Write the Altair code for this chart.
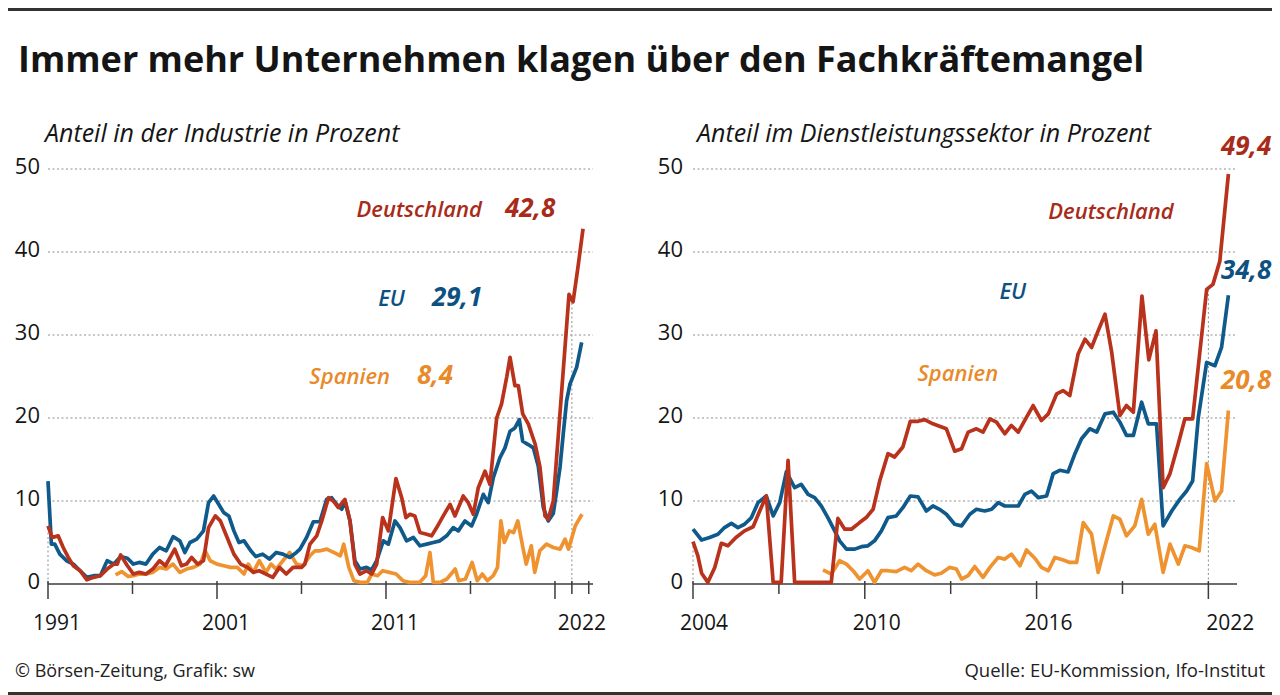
import altair as alt
import pandas as pd

TITLE = "Immer mehr Unternehmen klagen über den Fachkräftemangel"
SUB_LEFT = "Anteil in der Industrie in Prozent"
SUB_RIGHT = "Anteil im Dienstleistungssektor in Prozent"
SOURCE_LEFT = "© Börsen-Zeitung, Grafik: sw"
SOURCE_RIGHT = "Quelle: EU-Kommission, Ifo-Institut"

# ---------------- Industrie (left panel) ----------------
ind_de_years = [1991.0, 1991.25, 1991.6, 1991.9, 1992.2, 1992.5, 1992.9, 1993.3, 1993.7, 1994.1,
                1994.5, 1994.9, 1995.1, 1995.3, 1995.7, 1996.05, 1996.4, 1996.8, 1997.2, 1997.6,
                1997.95, 1998.5, 1998.9, 1999.2, 1999.5, 1999.85, 2000.2, 2000.5, 2000.9, 2001.2,
                2001.6, 2002.0, 2002.4, 2002.8, 2003.15, 2003.5, 2003.9, 2004.3, 2004.7, 2005.1,
                2005.5, 2006.0, 2006.2, 2006.5, 2006.9, 2007.2, 2007.6, 2007.88, 2008.18, 2008.57,
                2008.87, 2009.16, 2009.46, 2009.85, 2010.15, 2010.45, 2010.8, 2011.14, 2011.59, 2011.93,
                2012.18, 2012.42, 2012.71, 2013.01, 2013.41, 2013.7, 2014.0, 2014.39, 2014.79, 2015.08,
                2015.57, 2015.87, 2016.17, 2016.46, 2016.86, 2017.15, 2017.55, 2017.84, 2018.15, 2018.34,
                2018.63, 2018.83, 2019.09, 2019.42, 2019.82, 2020.11, 2020.41, 2020.6, 2020.9, 2021.2,
                2021.5, 2021.83, 2022.07, 2022.35, 2022.66]
ind_de_values = [7.0, 5.6, 5.8, 4.4, 3.2, 2.2, 1.6, 0.5, 0.8, 1.0,
                 1.8, 2.4, 2.4, 3.5, 2.2, 1.2, 1.4, 1.2, 1.8, 2.8,
                 2.2, 4.2, 2.2, 2.4, 3.2, 2.4, 2.8, 6.8, 8.2, 7.6,
                 5.6, 3.6, 2.4, 2.0, 1.4, 1.6, 1.2, 0.8, 2.0, 1.2,
                 2.0, 2.0, 2.4, 4.8, 5.8, 7.6, 10.4, 10.0, 9.2, 10.2,
                 7.6, 2.4, 1.2, 1.6, 1.2, 2.4, 8.0, 6.4, 12.7, 10.4,
                 8.0, 8.4, 8.2, 6.2, 6.0, 5.8, 6.8, 8.2, 9.6, 8.2,
                 10.6, 9.8, 8.4, 11.6, 13.6, 12.0, 20.0, 21.7, 25.0, 27.3,
                 23.9, 23.9, 20.5, 19.3, 16.9, 14.1, 8.2, 7.8, 10.0, 18.0,
                 26.0, 34.9, 34.0, 38.0, 42.8]

ind_eu_years = [1991.0, 1991.2, 1991.4, 1991.7, 1992.1, 1992.5, 1992.9, 1993.3, 1993.7, 1994.1,
                1994.5, 1994.9, 1995.3, 1995.7, 1996.05, 1996.4, 1996.8, 1997.2, 1997.6, 1998.0,
                1998.4, 1998.8, 1999.1, 1999.4, 1999.8, 2000.2, 2000.5, 2000.8, 2001.1, 2001.4,
                2001.7, 2002.0, 2002.3, 2002.6, 2003.0, 2003.3, 2003.7, 2004.1, 2004.5, 2004.9,
                2005.3, 2005.7, 2005.91, 2006.3, 2006.7, 2007.09, 2007.49, 2007.78, 2008.08, 2008.38,
                2008.57, 2008.87, 2009.16, 2009.46, 2009.85, 2010.15, 2010.45, 2010.84, 2011.14, 2011.53,
                2011.83, 2012.22, 2012.62, 2013.01, 2013.41, 2013.8, 2014.19, 2014.59, 2014.98, 2015.28,
                2015.67, 2016.07, 2016.36, 2016.76, 2017.05, 2017.35, 2017.74, 2018.04, 2018.34, 2018.63,
                2018.89, 2019.09, 2019.42, 2019.72, 2020.01, 2020.31, 2020.6, 2020.9, 2021.1, 2021.3,
                2021.49, 2021.69, 2021.89, 2022.28, 2022.58]
ind_eu_values = [12.4, 4.8, 4.8, 3.6, 2.8, 2.4, 1.6, 0.8, 1.0, 1.0,
                 2.8, 2.4, 3.3, 3.1, 2.4, 2.6, 2.4, 3.6, 4.4, 4.0,
                 5.7, 5.2, 3.8, 5.0, 5.4, 6.4, 9.8, 10.6, 9.6, 8.6,
                 8.2, 6.4, 5.0, 5.2, 4.0, 3.3, 3.6, 3.0, 3.8, 3.6,
                 3.2, 3.8, 4.2, 5.6, 7.5, 7.5, 10.2, 10.4, 9.6, 9.0,
                 10.0, 7.6, 2.8, 1.8, 2.0, 1.7, 2.8, 5.2, 4.8, 7.6,
                 6.8, 5.2, 5.6, 4.6, 4.8, 5.0, 5.2, 5.8, 6.8, 6.4,
                 7.6, 7.0, 8.4, 10.8, 9.8, 12.8, 15.2, 16.4, 18.4, 18.8,
                 19.8, 17.2, 16.8, 16.4, 14.2, 9.2, 7.6, 8.5, 11.2, 14.1,
                 18.1, 22.1, 24.1, 26.1, 29.1]

ind_es_years = [1995.0, 1995.36, 1995.75, 1996.05, 1996.4, 1996.8, 1997.2, 1997.6, 1998.0, 1998.4,
                1998.8, 1999.2, 1999.6, 2000.0, 2000.3, 2000.6, 2001.0, 2001.4, 2001.8, 2002.2,
                2002.6, 2002.85, 2003.15, 2003.5, 2003.9, 2004.2, 2004.5, 2004.9, 2005.3, 2005.7,
                2006.1, 2006.5, 2006.8, 2007.1, 2007.5, 2007.9, 2008.3, 2008.5, 2008.8, 2009.1,
                2009.5, 2009.9, 2010.15, 2010.5, 2010.8, 2011.2, 2011.6, 2012.0, 2012.4, 2013.0,
                2013.35, 2013.6, 2013.8, 2014.2, 2014.6, 2015.1, 2015.3, 2015.7, 2016.1, 2016.4,
                2016.7, 2017.0, 2017.35, 2017.6, 2017.8, 2018.0, 2018.3, 2018.55, 2018.8, 2019.1,
                2019.3, 2019.6, 2019.8, 2020.1, 2020.5, 2020.9, 2021.3, 2021.6, 2021.8, 2022.2,
                2022.6]
ind_es_values = [1.1, 1.5, 0.9, 1.0, 1.2, 1.2, 1.4, 2.0, 1.8, 2.4,
                 1.4, 1.8, 2.0, 2.4, 4.0, 2.8, 2.4, 2.2, 2.0, 2.0,
                 1.2, 2.4, 1.4, 2.8, 1.4, 2.4, 1.8, 2.8, 3.8, 2.4,
                 2.2, 3.4, 4.0, 4.0, 4.2, 3.8, 3.4, 4.8, 2.0, 0.4,
                 0.2, 0.2, 1.2, 1.0, 1.6, 1.4, 1.2, 0.4, 0.2, 0.2,
                 1.0, 3.8, 0.2, 0.2, 0.6, 1.8, 0.4, 0.6, 2.6, 0.4,
                 1.2, 0.4, 1.0, 2.0, 7.6, 5.0, 6.4, 6.2, 7.6, 4.4,
                 2.4, 4.6, 1.4, 4.0, 4.8, 4.4, 4.2, 5.4, 4.2, 7.0,
                 8.4]

# ---------------- Dienstleistungen (right panel) ----------------
srv_de_years = [2004.0, 2004.17, 2004.3, 2004.52, 2004.76, 2004.99, 2005.22, 2005.5, 2005.8, 2006.1,
                2006.33, 2006.56, 2006.8, 2007.08, 2007.32, 2007.55, 2008.83, 2009.06, 2009.3, 2009.53,
                2009.82, 2010.05, 2010.29, 2010.52, 2010.81, 2011.04, 2011.33, 2011.59, 2011.86, 2012.09,
                2012.38, 2012.61, 2012.85, 2013.14, 2013.38, 2013.61, 2013.9, 2014.13, 2014.37, 2014.6,
                2014.89, 2015.12, 2015.36, 2015.65, 2015.88, 2016.17, 2016.41, 2016.7, 2016.93, 2017.16,
                2017.45, 2017.69, 2017.92, 2018.15, 2018.39, 2018.62, 2018.91, 2019.14, 2019.38, 2019.68,
                2019.92, 2020.17, 2020.42, 2020.66, 2020.95, 2021.18, 2021.45, 2021.94, 2022.16, 2022.4,
                2022.7]
srv_de_values = [5.1, 3.4, 1.3, 0.2, 2.0, 4.9, 4.6, 5.6, 6.4, 6.9,
                 8.8, 10.6, 0.2, 0.2, 14.9, 0.2, 0.2, 7.9, 6.6, 6.6,
                 7.4, 8.0, 9.0, 12.4, 15.7, 15.3, 16.5, 19.6, 19.6, 19.8,
                 19.3, 19.0, 18.7, 16.0, 16.3, 18.3, 18.7, 18.3, 19.9, 19.5,
                 18.1, 19.1, 18.3, 20.1, 21.5, 19.7, 20.5, 22.9, 23.3, 22.7,
                 27.7, 29.5, 28.5, 30.5, 32.5, 28.0, 20.3, 21.5, 20.7, 34.7,
                 27.0, 30.5, 11.6, 13.3, 16.9, 19.9, 19.9, 35.5, 36.1, 38.9,
                 49.4]

srv_eu_years = [2004.0, 2004.3, 2004.58, 2004.87, 2005.1, 2005.34, 2005.57, 2005.8, 2006.04, 2006.27,
                2006.56, 2006.8, 2007.03, 2007.26, 2007.55, 2007.78, 2008.02, 2008.25, 2008.48, 2008.71,
                2008.95, 2009.12, 2009.36, 2009.65, 2009.88, 2010.11, 2010.34, 2010.58, 2010.81, 2011.1,
                2011.33, 2011.59, 2011.86, 2012.15, 2012.38, 2012.61, 2012.85, 2013.14, 2013.38, 2013.67,
                2013.9, 2014.19, 2014.43, 2014.66, 2014.89, 2015.12, 2015.36, 2015.59, 2015.82, 2016.06,
                2016.35, 2016.58, 2016.81, 2017.1, 2017.34, 2017.57, 2017.86, 2018.1, 2018.39, 2018.68,
                2018.91, 2019.14, 2019.38, 2019.67, 2019.9, 2020.19, 2020.42, 2020.72, 2021.0, 2021.24,
                2021.45, 2021.65, 2021.94, 2022.23, 2022.46, 2022.7]
srv_eu_values = [6.6, 5.3, 5.6, 6.0, 6.8, 7.3, 6.8, 7.2, 8.0, 9.8,
                 10.6, 8.2, 9.8, 13.5, 11.6, 12.0, 10.8, 10.4, 9.4, 8.0,
                 6.4, 5.2, 4.2, 4.2, 4.5, 4.6, 5.2, 6.4, 8.0, 8.2,
                 9.2, 10.6, 10.5, 8.8, 9.4, 9.0, 8.4, 7.2, 7.0, 8.4,
                 9.0, 8.8, 9.0, 9.8, 9.4, 9.4, 9.4, 10.8, 11.2, 10.4,
                 10.6, 13.3, 13.7, 13.5, 15.7, 17.5, 18.7, 18.3, 20.5, 20.7,
                 19.5, 17.9, 17.9, 21.9, 19.3, 19.3, 7.0, 8.8, 10.2, 11.2,
                 12.4, 20.1, 26.7, 26.3, 28.5, 34.8]

srv_es_years = [2008.54, 2008.83, 2009.12, 2009.36, 2009.59, 2009.82, 2010.11, 2010.34, 2010.58, 2010.81,
                2011.1, 2011.39, 2011.62, 2011.86, 2012.15, 2012.44, 2012.67, 2012.96, 2013.2, 2013.38,
                2013.61, 2013.84, 2014.13, 2014.37, 2014.66, 2014.89, 2015.12, 2015.42, 2015.65, 2015.94,
                2016.17, 2016.41, 2016.64, 2016.93, 2017.16, 2017.4, 2017.63, 2017.92, 2018.15, 2018.44,
                2018.68, 2018.91, 2019.14, 2019.43, 2019.67, 2019.9, 2020.13, 2020.42, 2020.66, 2020.95,
                2021.18, 2021.41, 2021.68, 2021.94, 2022.23, 2022.46, 2022.7]
srv_es_values = [1.7, 1.2, 2.8, 2.4, 1.6, 0.6, 1.6, 0.2, 1.6, 1.6,
                 1.5, 2.0, 1.6, 2.4, 1.6, 1.1, 1.3, 2.0, 1.8, 0.6,
                 1.0, 2.1, 0.8, 2.0, 3.2, 3.0, 3.6, 2.2, 4.1, 3.1,
                 2.0, 1.6, 3.2, 2.9, 2.6, 2.6, 7.4, 6.0, 1.4, 5.2,
                 8.2, 7.8, 5.8, 7.0, 10.2, 6.0, 7.2, 1.4, 4.8, 2.4,
                 4.6, 4.4, 4.0, 14.5, 10.0, 11.2, 20.9]

Y_TICKS = [0, 10, 20, 30, 40, 50]
IND_MAJOR = [1991, 2001, 2011, 2021]
IND_MINOR = [1996, 2006, 2016, 2022, 2023]
IND_LABELS = [1991, 2001, 2011, 2022]
SRV_MAJOR = [2004, 2010, 2016, 2022]
SRV_MINOR = [2007, 2013, 2019]
SRV_LABELS = [2004, 2010, 2016, 2022]
IND_DROPS_YEAR = [1991, 2022]
IND_DROPS_TOP = [7.0, 34.5]
SRV_DROPS_YEAR = [2004, 2022]
SRV_DROPS_TOP = [5.1, 35.5]

# ---------------- styling ----------------
RED = "#b8321c"
RED_TEXT = "#a82b19"
BLUE = "#0f5a8b"
BLUE_TEXT = "#0d5181"
ORANGE = "#ef9331"
ORANGE_TEXT = "#e98a2a"
GRID = "#8e8e8e"
AXIS = "#3c3c3c"
INK = "#151515"
FONT = "Open Sans"

W, H = 1264, 687
Y0, Y50 = 576, 161
PX = (Y0 - Y50) / 50.0  # pixels per value unit


def u(px):
    """pixel distance -> value units of the shared y scale"""
    return px / PX


def make_panel(x_domain, x_range, series, major, minor, labels, label_dx,
               drops_year, drops_top, ylab_pad, annotations, subtitle, subtitle_x, extra=None):
    xs = alt.Scale(domain=x_domain, range=x_range, nice=False, zero=False)
    ys = alt.Scale(domain=[0, 50], range=[Y0, Y50], nice=False, zero=False)

    def X(f):
        return alt.X(f, scale=xs, axis=None)

    def Y(f):
        return alt.Y(f, scale=ys, axis=None)

    layers = []
    # horizontal dotted grid
    grid_df = pd.DataFrame({"v": Y_TICKS[1:], "x0": [x_domain[0]] * 5, "x1": [x_domain[1]] * 5})
    layers.append(alt.Chart(grid_df).mark_rule(color=GRID, strokeWidth=1, strokeDash=[2, 2.5]).encode(
        y=Y("v:Q"), x=X("x0:Q"), x2="x1:Q"))
    # dotted drop lines
    drop_df = pd.DataFrame({"year": drops_year, "top": drops_top, "zero": [0] * len(drops_year)})
    layers.append(alt.Chart(drop_df).mark_rule(color=GRID, strokeWidth=1, strokeDash=[2, 2.5]).encode(
        x=X("year:Q"), y=Y("zero:Q"), y2="top:Q"))
    # x axis baseline
    base_df = pd.DataFrame({"x0": [x_domain[0]], "x1": [x_domain[1]], "v": [0]})
    layers.append(alt.Chart(base_df).mark_rule(color=AXIS, strokeWidth=1.5).encode(
        x=X("x0:Q"), x2="x1:Q", y=Y("v:Q")))
    # major and minor ticks
    tick_years = list(major) + list(minor)
    tick_df = pd.DataFrame({
        "t": tick_years,
        "a": [u(3)] * len(tick_years),
        "b": [-u(15)] * len(major) + [-u(10)] * len(minor),
    })
    layers.append(alt.Chart(tick_df).mark_rule(color=AXIS, strokeWidth=1.5).encode(
        x=X("t:Q"), y=Y("a:Q"), y2="b:Q"))
    # lines
    for years, values, color in series:
        df = pd.DataFrame({"year": years, "value": values})
        layers.append(alt.Chart(df).mark_line(color=color, strokeWidth=3.7, strokeJoin="round").encode(
            x=X("year:Q"), y=Y("value:Q")))
    # x labels
    xl_df = pd.DataFrame({"year": labels, "lab": [str(v) for v in labels],
                          "v": [-u(40)] * len(labels)})
    for i in range(len(labels)):
        layers.append(alt.Chart(xl_df.iloc[[i]]).mark_text(
            font=FONT, fontSize=21, color=INK, align="center", baseline="middle",
            dx=label_dx[i]).encode(x=X("year:Q"), y=Y("v:Q"), text="lab:N"))
    # y labels
    yl_df = pd.DataFrame({"v": Y_TICKS, "lab": [str(v) for v in Y_TICKS],
                          "x0": [x_domain[0]] * len(Y_TICKS)})
    layers.append(alt.Chart(yl_df).mark_text(
        font=FONT, fontSize=22, color=INK, align="right", baseline="middle",
        dx=-ylab_pad, dy=-2).encode(x=X("x0:Q"), y=Y("v:Q"), text="lab:N"))
    # series annotations
    for (text, year, value, color, size, weight, align) in annotations:
        df = pd.DataFrame({"year": [year], "value": [value]})
        layers.append(alt.Chart(df).mark_text(
            text=text, font=FONT, fontSize=size, fontWeight=weight, fontStyle="italic",
            color=color, align=align, baseline="alphabetic").encode(
            x=X("year:Q"), y=Y("value:Q")))
    # subtitle
    sub_df = pd.DataFrame({"t": [subtitle]})
    layers.append(alt.Chart(sub_df).mark_text(
        font=FONT, fontSize=25, fontStyle="italic", color=INK, align="left",
        baseline="alphabetic").encode(text="t:N", x=alt.value(subtitle_x), y=alt.value(134)))
    if extra:
        layers.extend(extra)
    return alt.layer(*layers)


# page furniture (title, source lines, frame lines)
title_layer = alt.Chart(pd.DataFrame({"t": [TITLE]})).mark_text(
    font=FONT, fontSize=36, fontWeight="bold", color=INK, align="left",
    baseline="alphabetic").encode(text="t:N", x=alt.value(10), y=alt.value(64))
src_l = alt.Chart(pd.DataFrame({"t": [SOURCE_LEFT]})).mark_text(
    font=FONT, fontSize=18, color="#222", align="left", baseline="alphabetic").encode(
    text="t:N", x=alt.value(7), y=alt.value(669))
src_r = alt.Chart(pd.DataFrame({"t": [SOURCE_RIGHT]})).mark_text(
    font=FONT, fontSize=18.5, color="#222", align="right", baseline="alphabetic").encode(
    text="t:N", x=alt.value(1257), y=alt.value(669))
frame_df = pd.DataFrame({"k": [0]})
top_line = alt.Chart(frame_df).mark_rule(color="#333", strokeWidth=3).encode(
    x=alt.value(0), x2=alt.value(W), y=alt.value(1.5))
bottom_line = alt.Chart(frame_df).mark_rule(color="#333", strokeWidth=3).encode(
    x=alt.value(0), x2=alt.value(W), y=alt.value(685.5))

left_ann = [
    ("Deutschland", 2016.68, 44.2, RED_TEXT, 22, 600, "right"),
    ("42,8", 2018.04, 44.2, RED_TEXT, 26, "bold", "left"),
    ("EU", 2012.12, 33.5, BLUE_TEXT, 22, 600, "right"),
    ("29,1", 2013.72, 33.5, BLUE_TEXT, 26, "bold", "left"),
    ("Spanien", 2011.24, 24.1, ORANGE_TEXT, 22, 600, "right"),
    ("8,4", 2012.83, 24.1, ORANGE_TEXT, 26, "bold", "left"),
]
right_ann = [
    ("Deutschland", 2018.6, 44.0, RED_TEXT, 22, 600, "center"),
    ("49,4", 2024.2, 51.7, RED_TEXT, 26, "bold", "right"),
    ("EU", 2015.17, 34.3, BLUE_TEXT, 22, 600, "center"),
    ("34,8", 2024.2, 36.7, BLUE_TEXT, 26, "bold", "right"),
    ("Spanien", 2013.25, 24.5, ORANGE_TEXT, 22, 600, "center"),
    ("20,8", 2024.2, 23.5, ORANGE_TEXT, 26, "bold", "right"),
]

left = make_panel(
    [1991, 2023.25], [40, 585],
    [(ind_es_years, ind_es_values, ORANGE), (ind_eu_years, ind_eu_values, BLUE),
     (ind_de_years, ind_de_values, RED)],
    IND_MAJOR, IND_MINOR, IND_LABELS, [9, 9, 9, 10],
    IND_DROPS_YEAR, IND_DROPS_TOP, 8, left_ann, SUB_LEFT, 37,
    extra=[title_layer, src_l, src_r, top_line, bottom_line])

right = make_panel(
    [2004, 2023.0], [685, 1229],
    [(srv_es_years, srv_es_values, ORANGE), (srv_eu_years, srv_eu_values, BLUE),
     (srv_de_years, srv_de_values, RED)],
    SRV_MAJOR, SRV_MINOR, SRV_LABELS, [11, 12, 12, 22],
    SRV_DROPS_YEAR, SRV_DROPS_TOP, 10, right_ann, SUB_RIGHT, 689)

chart = (
    alt.layer(left, right)
    .resolve_scale(x="independent", y="independent")
    .properties(width=W, height=H, autosize=alt.AutoSizeParams(type="none"), padding=0,
                background="white")
    .configure_view(stroke=None)
)

chart.save("out.html", embed_options={"renderer": "svg", "actions": False})
